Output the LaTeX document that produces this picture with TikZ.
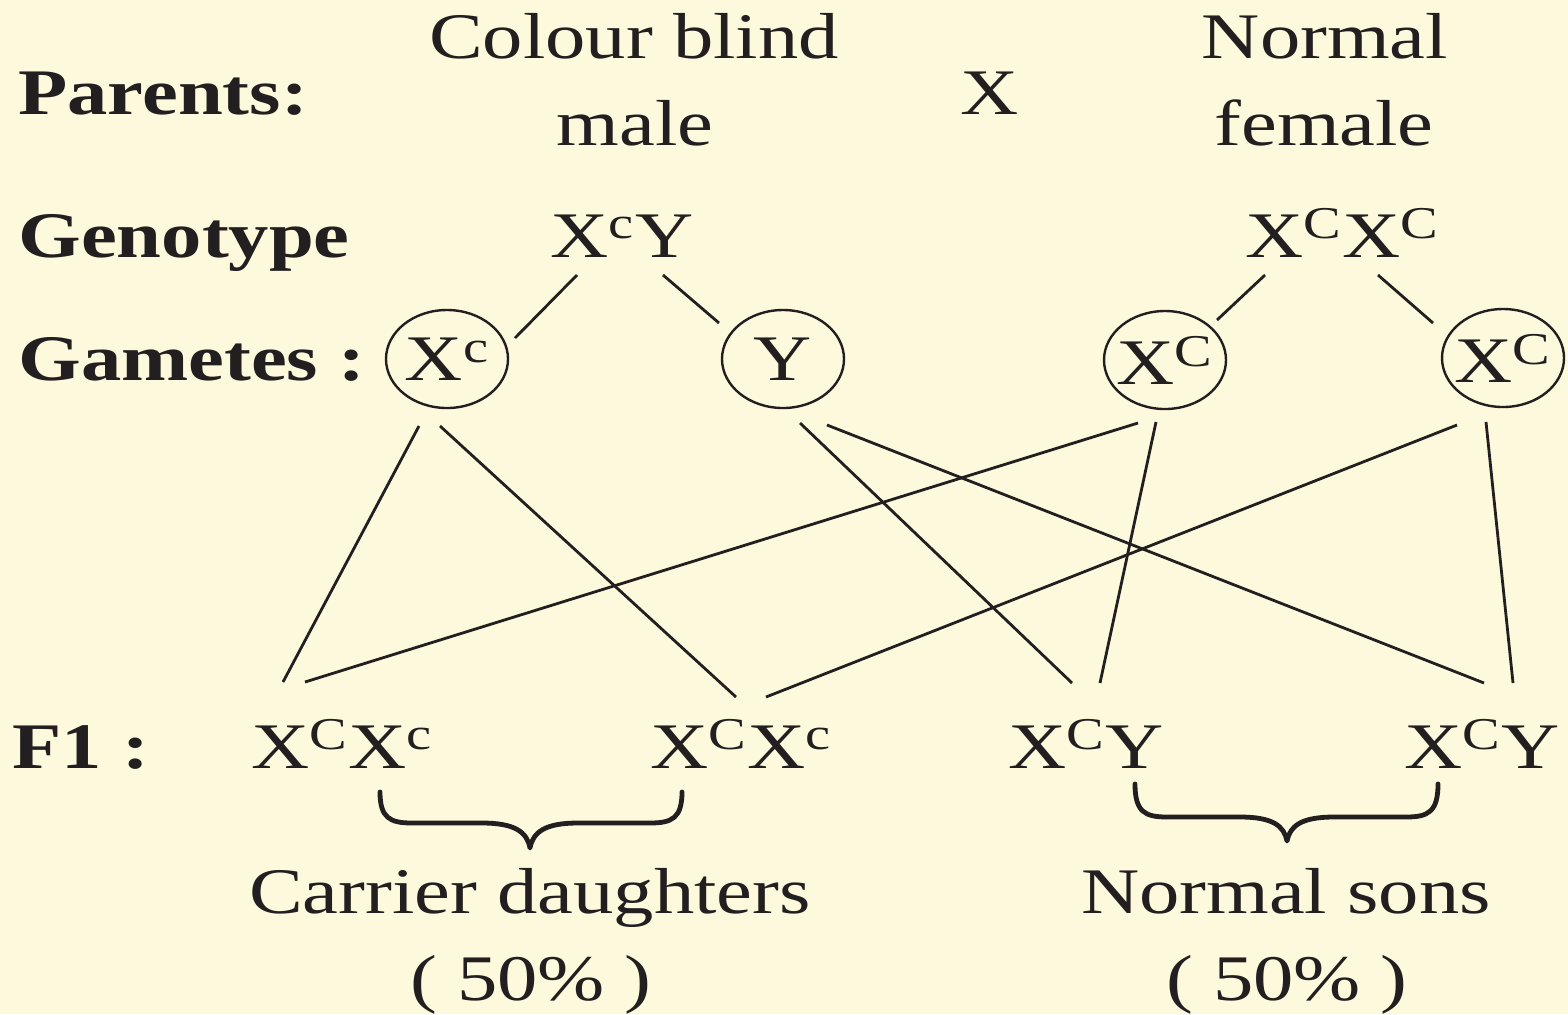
\documentclass[tikz,border=0pt]{standalone}
\usepackage{fontspec}
\setmainfont[FakeStretch=1.24]{Liberation Serif}
\usetikzlibrary{shapes.geometric,calc}
\definecolor{bgc}{RGB}{253,249,220}
\definecolor{ink}{RGB}{35,31,32}
\newcommand{\sps}[1]{\textsuperscript{#1}}
\begin{document}
\begin{tikzpicture}[x=0.5pt,y=-0.5pt,
  txt/.style={font=\fontsize{32.5}{40}\selectfont, text=ink, inner sep=0pt, anchor=base},
  lbl/.style={font=\fontsize{32.5}{40}\selectfont\bfseries, text=ink, inner sep=0pt, anchor=base west},
  gam/.style={ellipse, draw=ink, line width=1.2pt, minimum width=61pt, minimum height=49pt, inner xsep=-8pt, inner ysep=0pt, font=\fontsize{32.5}{40}\selectfont, text=ink},
  link/.style={draw=ink, line width=1.4pt},
  brc/.style={draw=ink, line width=2.4pt, line cap=round, line join=round}]
\fill[bgc] (0,0) rectangle (1568,1014);
\useasboundingbox (0,0) rectangle (1568,1014);

% row labels
\node[lbl] (lp) at (18,114) {Parents:};
\node[lbl] (lg) at (18,257) {Genotype};
\node[lbl] (lgm) at (18,380) {Gametes :};
\node[lbl] (lf) at (12,768) {F1 :};

% parents
\node[txt] (pm1) at (634,58) {Colour blind};
\node[txt] (pm2) at (635,145) {male};
\node[txt] (cross) at (990,114) {X};
\node[txt] (pf1) at (1325,58) {Normal};
\node[txt] (pf2) at (1324,145) {female};

% genotypes
\node[txt] (gm) at (622,257) {X\sps{c}Y};
\node[txt] (gf) at (1342,257) {X\sps{C}X\sps{C}};

% gametes
\node[gam] (gXc) at (447,359) {X\sps{c}};
\node[gam] (gY) at (783,359) {Y};
\node[gam] (gXC1) at (1165,360) {X\sps{C}};
\node[gam] (gXC2) at (1503,358) {X\sps{C}};

% F1
\node[txt] (f1a) at (342,768) {X\sps{C}X\sps{c}};
\node[txt] (f1b) at (741,768) {X\sps{C}X\sps{c}};
\node[txt] (f1c) at (1086,768) {X\sps{C}Y};
\node[txt] (f1d) at (1482,768) {X\sps{C}Y};

% bottom labels
\node[txt] (cd) at (530,913) {Carrier daughters};
\node[txt] (cdp) at (531,1000) {( 50\% )};
\node[txt] (ns) at (1286,913) {Normal sons};
\node[txt] (nsp) at (1287,1000) {( 50\% )};

% parent -> gametes
\draw[link] ($(gm.base)+(-45,18)$) -- ($(gXc)+(68,-21)$);
\draw[link] ($(gm.base)+(41,18)$) -- ($(gY)+(-64,-36)$);
\draw[link] ($(gf.base)+(-77,18)$) -- ($(gXC1)+(52,-40)$);
\draw[link] ($(gf.base)+(36,18)$) -- ($(gXC2)+(-70,-35)$);

% gametes -> F1
\draw[link] ($(gXc)+(-28,67)$) -- ($(f1a.base)+(-59,-86)$);
\draw[link] ($(gXc)+(-7,67)$) -- ($(f1b.base)+(-5,-71)$);
\draw[link] ($(gY)+(17,64)$) -- ($(f1c.base)+(-14,-85)$);
\draw[link] ($(gY)+(44,66)$) -- ($(f1d.base)+(2,-85)$);
\draw[link] ($(gXC1)+(-27,63)$) -- ($(f1a.base)+(-37,-86)$);
\draw[link] ($(gXC1)+(-9,62)$) -- ($(f1c.base)+(14,-85)$);
\draw[link] ($(gXC2)+(-46,67)$) -- ($(f1b.base)+(25,-71)$);
\draw[link] ($(gXC2)+(-17,64)$) -- ($(f1d.base)+(31,-85)$);

% braces
\draw[brc] (380,792) .. controls (380,818) and (390,823) .. (412,823)
  -- (482,823) .. controls (515,823) and (527,832) .. (530,848)
  .. controls (533,832) and (545,823) .. (578,823)
  -- (650,823) .. controls (672,823) and (682,818) .. (682,792);
\draw[brc] (1135,784) .. controls (1135,812) and (1145,817) .. (1167,817)
  -- (1240,817) .. controls (1273,817) and (1284,826) .. (1287,841)
  .. controls (1290,826) and (1301,817) .. (1334,817)
  -- (1406,817) .. controls (1428,817) and (1438,812) .. (1438,784);
\end{tikzpicture}
\end{document}
